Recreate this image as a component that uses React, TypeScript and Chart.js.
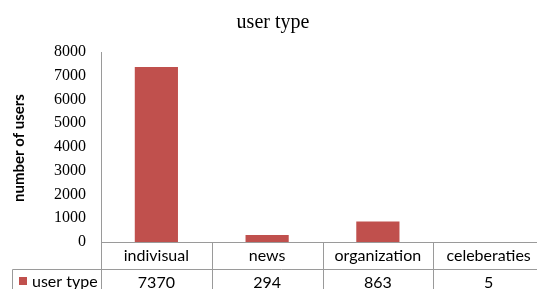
import React, { useEffect, useRef } from "react";
import { Chart, registerables } from "chart.js";

Chart.register(...registerables);

const categories = ["indivisual", "news", "organization", "celeberaties"];
const seriesName = "user type";
const values = [7370, 294, 863, 5];
const chartTitle = "user type";
const yAxisTitle = "number of users";
const yTicks = [0, 1000, 2000, 3000, 4000, 5000, 6000, 7000, 8000];

const BAR = "#C0504D";
const LINE = "#9A9A9A";

const tablePlugin = {
  id: "tablePlugin",
  afterDraw(chart: any) {
    const ctx = chart.ctx as CanvasRenderingContext2D;
    const xs = chart.scales.x;
    const area = chart.chartArea;
    const H = chart.height;
    const W = chart.width;
    ctx.save();
    // chart title
    ctx.fillStyle = "#000";
    ctx.font = "20px 'Liberation Serif'";
    ctx.textAlign = "center";
    ctx.textBaseline = "alphabetic";
    ctx.fillText(chartTitle, 273, 28);
    // y axis title
    ctx.save();
    ctx.translate(19, 148);
    ctx.rotate(-Math.PI / 2);
    ctx.font = "bold 15px Lato";
    ctx.textAlign = "center";
    ctx.textBaseline = "middle";
    ctx.fillText(yAxisTitle, 0, 0);
    ctx.restore();

    const axisY = Math.round(area.bottom) + 0.5;
    const rowY = 269.5;
    ctx.strokeStyle = LINE;
    ctx.lineWidth = 1;
    ctx.beginPath();
    ctx.moveTo(area.left, axisY);
    ctx.lineTo(W, axisY);
    ctx.moveTo(12.5, rowY);
    ctx.lineTo(W, rowY);
    ctx.moveTo(12.5, rowY);
    ctx.lineTo(12.5, H);
    for (let i = 0; i <= categories.length; i++) {
      const px = Math.round(xs.getPixelForValue(i - 0.5)) + 0.5;
      ctx.moveTo(px, axisY);
      ctx.lineTo(px, H);
    }
    ctx.stroke();

    ctx.fillStyle = "#000";
    ctx.font = "16px Lato";
    ctx.textAlign = "center";
    ctx.textBaseline = "middle";
    categories.forEach((c, i) => {
      const px = xs.getPixelForValue(i);
      ctx.fillText(c, px, 256);
      ctx.fillText(String(values[i]), px, 283);
    });
    ctx.fillStyle = BAR;
    ctx.fillRect(19, 277, 8, 8);
    ctx.fillStyle = "#000";
    ctx.textAlign = "left";
    ctx.fillText(seriesName, 32, 282);
    ctx.restore();
  },
};

export default function App() {
  const ref = useRef<HTMLCanvasElement | null>(null);
  useEffect(() => {
    if (!ref.current) return;
    const chart = new Chart(ref.current, {
      type: "bar",
      data: {
        labels: categories,
        datasets: [
          {
            label: seriesName,
            data: values,
            backgroundColor: BAR,
            borderWidth: 0,
            categoryPercentage: 1,
            barPercentage: 0.39,
          },
        ],
      },
      options: {
        responsive: false,
        animation: false,
        devicePixelRatio: 1,
        layout: { padding: { left: 0, right: 6, top: 52, bottom: 47 } },
        plugins: {
          legend: { display: false },
          title: { display: false },
          tooltip: { enabled: false },
        },
        scales: {
          x: { display: false, offset: true },
          y: {
            min: 0,
            max: 8000,
            afterFit: (s: any) => {
              s.width = 101;
            },
            afterBuildTicks: (s: any) => {
              s.ticks = yTicks.map((v) => ({ value: v }));
            },
            ticks: {
              color: "#000",
              font: { family: "'Liberation Serif'", size: 16 },
              padding: 15,
              callback: (v: any) => String(v),
            },
            grid: { display: false, drawTicks: false },
            border: { display: true, color: LINE, width: 1 },
          },
        },
      },
      plugins: [tablePlugin],
    });
    return () => chart.destroy();
  }, []);
  return (
    <div
      style={{
        position: "absolute",
        left: 0,
        top: 0,
        width: 537,
        height: 289,
        overflow: "hidden",
        background: "#fff",
      }}
    >
      <canvas ref={ref} width={550} height={289} style={{ display: "block" }} />
    </div>
  );
}
